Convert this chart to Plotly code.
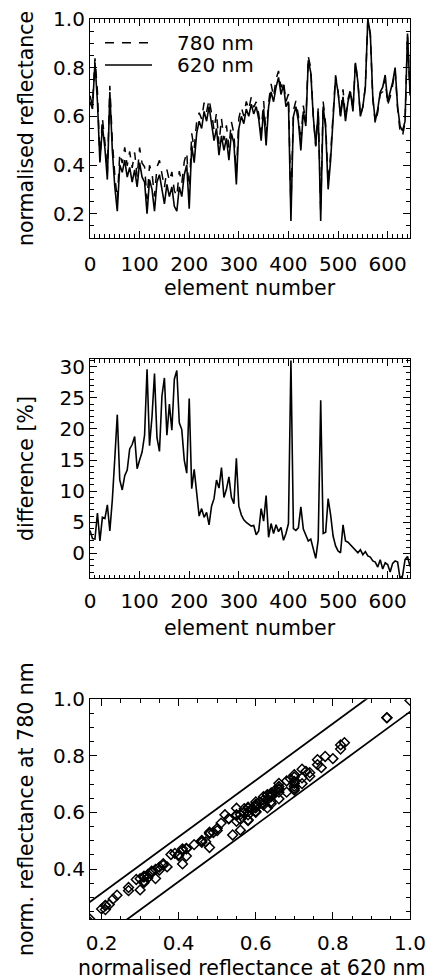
import numpy as np
import plotly.graph_objects as go

# Detector element index (sampled every 5 elements)
element = np.arange(0, 646, 5)

# Normalised reflectance at 620 nm along the detector
refl_620 = np.array([
    0.66, 0.63, 0.82, 0.66, 0.41, 0.56, 0.47, 0.34, 0.70, 0.46,
    0.31, 0.21, 0.40, 0.37, 0.42, 0.35, 0.39, 0.33, 0.38, 0.31,
    0.41, 0.35, 0.33, 0.20, 0.34, 0.30, 0.21, 0.33, 0.36, 0.29,
    0.24, 0.32, 0.27, 0.31, 0.23, 0.21, 0.31, 0.27, 0.36, 0.40,
    0.22, 0.48, 0.41, 0.53, 0.58, 0.55, 0.62, 0.58, 0.64, 0.57,
    0.50, 0.55, 0.44, 0.52, 0.46, 0.51, 0.42, 0.53, 0.49, 0.32,
    0.55, 0.60, 0.57, 0.63, 0.60, 0.65, 0.61, 0.64, 0.59, 0.50,
    0.63, 0.48, 0.64, 0.70, 0.66, 0.72, 0.76, 0.69, 0.73, 0.64,
    0.66, 0.17, 0.60, 0.64, 0.58, 0.46, 0.62, 0.56, 0.83, 0.78,
    0.60, 0.48, 0.62, 0.17, 0.64, 0.55, 0.30, 0.42, 0.60, 0.76,
    0.70, 0.60, 0.68, 0.58, 0.66, 0.70, 0.62, 0.82, 0.74, 0.60,
    0.64, 0.72, 1.00, 0.94, 0.68, 0.58, 0.63, 0.70, 0.72, 0.77,
    0.66, 0.70, 0.74, 0.80, 0.64, 0.56, 0.54, 0.58, 0.94, 0.70,
])

# Relative difference 780 nm vs 620 nm [%]
diff_pct = np.array([
    3.7, 2.4, 2.3, 6.5, 2.0, 5.8, 5.6, 7.8, 3.6, 8.6,
    15.3, 22.3, 11.8, 10.2, 12.5, 13.4, 16.8, 17.5, 18.8, 13.6,
    15.0, 16.3, 19.0, 29.6, 17.3, 22.0, 28.9, 18.6, 16.4, 25.3,
    28.2, 19.0, 24.0, 19.8, 28.0, 29.4, 21.0, 19.9, 15.0, 12.9,
    24.9, 10.4, 13.5, 9.2, 6.0, 7.2, 5.8, 6.6, 4.6, 7.6,
    8.8, 11.8, 10.5, 13.8, 9.0, 10.3, 12.3, 9.0, 8.0, 15.3,
    7.6, 6.2, 5.4, 5.0, 4.7, 4.4, 4.5, 3.0, 3.6, 7.2,
    5.2, 9.3, 2.6, 4.8, 3.2, 4.6, 3.5, 4.2, 2.1, 3.2,
    4.8, 31.0, 4.0, 3.7, 4.1, 7.5, 3.9, 2.8, 2.0, 2.3,
    0.6, -0.8, 2.2, 24.6, 3.2, 3.4, 8.8, 6.2, 2.8, 1.2,
    0.4, 0.1, 4.6, 2.0, 1.8, 1.4, 1.0, 0.5, 0.1, 0.6,
    -0.2, 0.3, -0.4, -0.6, -1.2, -1.4, -2.2, -1.0, -2.5, -1.5,
    -1.8, -3.0, -1.6, -1.2, -1.4, -4.0, -3.6, -1.0, -0.5, -2.1,
])

# Normalised reflectance at 780 nm from the 620 nm values and their difference
refl_780 = refl_620 * (1 + diff_pct / 100)

# Offsets of the two bounding lines (slope 1) in the scatter panel
band_offsets = [0.114, -0.044]

# Legend entries of the top panel: label and line dash
legend_labels = ["780 nm", "620 nm"]
legend_dashes = ["9px,8px", "solid"]

W, H = 428, 980
X_DOM = [90 / W, 410 / W]


def ydom(top_px, bottom_px):
    return [1 - bottom_px / H, 1 - top_px / H]


def axis(**kw):
    minor_dtick = kw.pop("minor_dtick")
    d = dict(
        showline=True, linecolor="black", linewidth=1.2, mirror="ticks",
        ticks="inside", ticklen=7, tickwidth=1.2, tickcolor="black",
        showgrid=False, zeroline=False, automargin=False,
        tickfont=dict(size=20, color="black"),
        minor=dict(ticks="inside", ticklen=3.5, tickwidth=1, tickcolor="black",
                   dtick=minor_dtick, showgrid=False),
    )
    d.update(kw)
    return d


fig = go.Figure()

# Panel 1: reflectance profiles
fig.add_trace(go.Scatter(
    x=element, y=refl_780, mode="lines", name=legend_labels[0],
    line=dict(color="black", width=1.5, dash=legend_dashes[0]),
    xaxis="x", yaxis="y",
))
fig.add_trace(go.Scatter(
    x=element, y=refl_620, mode="lines", name=legend_labels[1],
    line=dict(color="black", width=1.6, dash=legend_dashes[1]),
    xaxis="x", yaxis="y",
))

# Panel 2: difference
fig.add_trace(go.Scatter(
    x=element, y=diff_pct, mode="lines", name="difference",
    line=dict(color="black", width=1.6), xaxis="x2", yaxis="y2",
))

# Panel 3: 780 nm vs 620 nm scatter with bounding lines
fig.add_trace(go.Scatter(
    x=refl_620, y=refl_780, mode="markers", name="scatter",
    marker=dict(symbol="diamond-open", size=7.5, color="black",
                line=dict(width=1.5, color="black")),
    xaxis="x3", yaxis="y3",
))
span = np.array([0.0, 1.2])
for off in band_offsets:
    fig.add_trace(go.Scatter(
        x=span, y=span + off, mode="lines", line=dict(color="black", width=1.8),
        xaxis="x3", yaxis="y3", hoverinfo="skip",
    ))

fig.update_layout(
    width=W, height=H,
    margin=dict(l=0, r=0, t=0, b=0),
    paper_bgcolor="white", plot_bgcolor="white",
    font=dict(family="DejaVu Sans", size=20, color="black"),
    showlegend=False,
    xaxis=axis(domain=X_DOM, anchor="y", range=[0, 645], dtick=100, tick0=0,
               minor_dtick=10, ticklabelstandoff=8),
    yaxis=axis(domain=ydom(19, 238), anchor="x", range=[0.1, 1.0], dtick=0.2,
               tick0=0, tickformat=".1f", minor_dtick=0.05),
    xaxis2=axis(domain=X_DOM, anchor="y2", range=[0, 645], dtick=100, tick0=0,
                minor_dtick=10, ticklabelstandoff=5),
    yaxis2=axis(domain=ydom(359.3, 578.3), anchor="x2", range=[-4.0, 31.2],
                dtick=5, tick0=0, minor_dtick=1),
    xaxis3=axis(domain=X_DOM, anchor="y3", range=[0.17, 1.0], dtick=0.2,
                tick0=0, tickformat=".1f", minor_dtick=0.05,
                ticklabelstandoff=6),
    yaxis3=axis(domain=ydom(699.3, 919.3), anchor="x3", range=[0.2225, 1.0],
                dtick=0.2, tick0=0, tickformat=".1f", minor_dtick=0.05),
)

# Legend of the top panel: line keys with labels
for i, (label, dash) in enumerate(zip(legend_labels, legend_dashes)):
    yk = 1 - (42.7 + 22.3 * i) / H
    fig.add_shape(type="line", xref="paper", yref="paper",
                  x0=105 / W, x1=152 / W, y0=yk, y1=yk,
                  line=dict(color="black", width=1.5, dash=dash))
    fig.add_annotation(text=label, x=175 / W, y=yk, xref="paper", yref="paper",
                       xanchor="left", yanchor="middle", showarrow=False,
                       font=dict(size=20, color="black"))

titles = [
    ("element number", 250 / W, 1 - 288 / H, 0),
    ("normalised reflectance", 26 / W, 1 - 129 / H, -90),
    ("element number", 250 / W, 1 - 628 / H, 0),
    ("difference [%]", 26 / W, 1 - 469 / H, -90),
    ("normalised reflectance at 620 nm", 252 / W, 1 - 968 / H, 0),
    ("norm. reflectance at 780 nm", 26 / W, 1 - 809 / H, -90),
]
for text, x, y, ang in titles:
    fig.add_annotation(text=text, x=x, y=y, xref="paper", yref="paper",
                       xanchor="center", yanchor="middle", textangle=ang,
                       showarrow=False, font=dict(size=20.5, color="black"))

fig.write_html("out.html")
